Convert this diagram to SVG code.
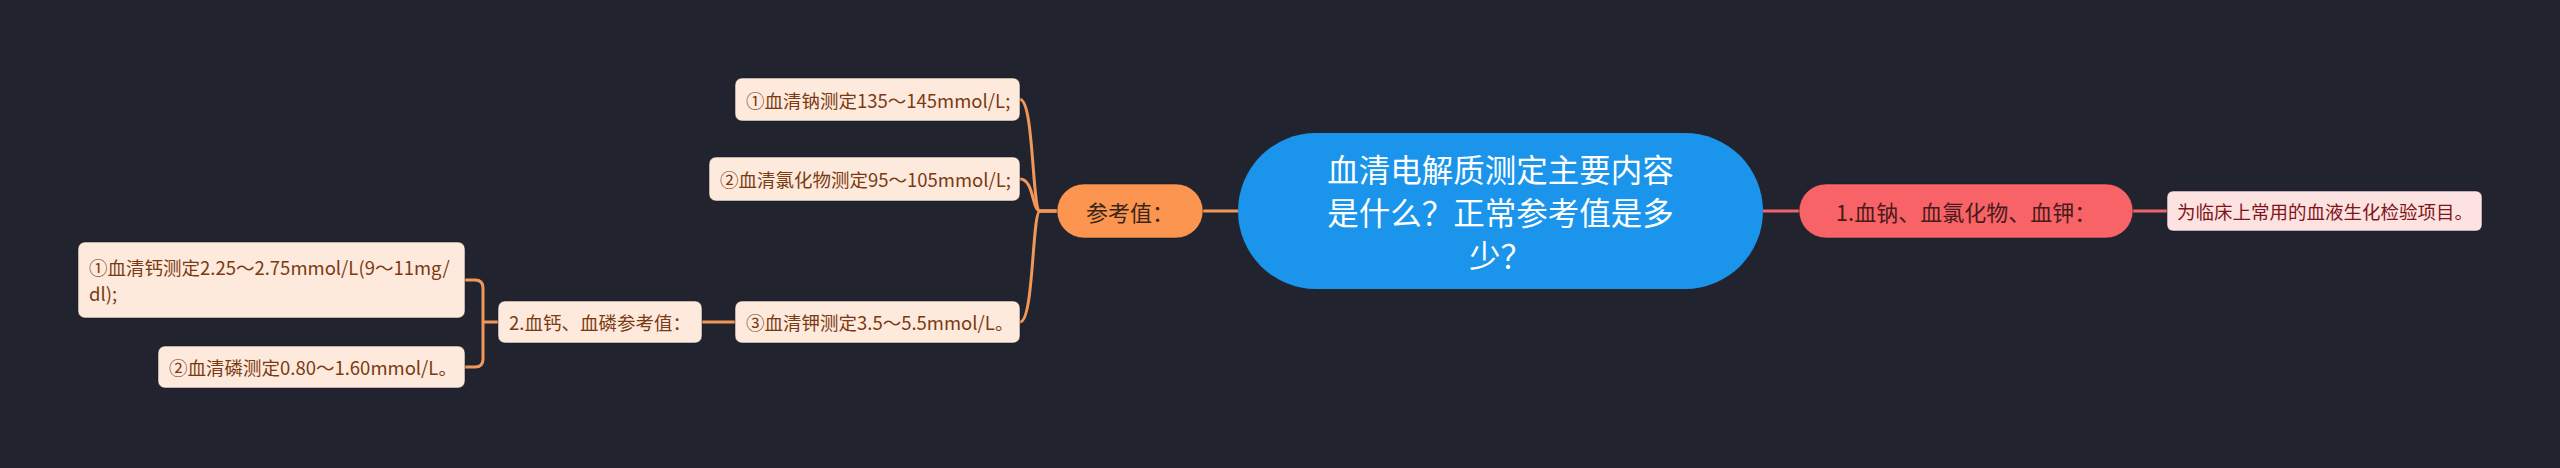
<svg xmlns="http://www.w3.org/2000/svg" width="2560" height="468" viewBox="0 0 2560 468">
<defs>
<style>
text{font-family:"Noto Sans CJK SC","Noto Sans",sans-serif;dominant-baseline:central}
.leaf{fill:#fdeadd;stroke:#14161d;stroke-opacity:.5;stroke-width:1}
.lt{fill:#7b3a12;font-size:18.5px}
.co{fill:none;stroke:#f2975a;stroke-width:3}
.cr{fill:none;stroke:#ef6468;stroke-width:3}
</style>
</defs>
<rect width="2560" height="468" fill="#21242f"/>
<g id="connectors">
<path class="co" d="M1203,211 H1238"/>
<path class="cr" d="M1763,211 H1799"/>
<path class="cr" d="M2133,211 H2167"/>
<path class="co" d="M1057,211 H1040 C1032,211 1034,99.5 1020,99.5"/>
<path class="co" d="M1057,211 H1040 C1032,211 1034,179 1020,179"/>
<path class="co" d="M1057,211 H1040 C1032,211 1034,322 1020,322"/>
<path class="co" d="M735,322 H702"/>
<path class="co" d="M498,322 H483"/>
<path class="co" d="M465,280 H475 Q483,280 483,288 V359 Q483,367 475,367 H465"/>
</g>
<g id="root">
<rect x="1238" y="133" width="525" height="156" rx="78" fill="#1a95eb"/>
<text x="1500.5" y="168" fill="#ffffff" font-size="31.5" text-anchor="middle">血清电解质测定主要内容</text>
<text x="1500.5" y="211" fill="#ffffff" font-size="31.5" text-anchor="middle">是什么？正常参考值是多</text>
<text x="1500.5" y="254" fill="#ffffff" font-size="31.5" text-anchor="middle">少？</text>
</g>
<g id="n-cankao">
<rect x="1057" y="184" width="146" height="54" rx="27" fill="#fb9550" stroke="#14161d" stroke-opacity=".5"/>
<text x="1130" y="211" fill="#3a2618" font-size="22" text-anchor="middle">参考值：</text>
</g>
<g id="n-na">
<rect class="leaf" x="735" y="78" width="285" height="43" rx="7"/>
<text class="lt" x="746" y="99.5">①血清钠测定135～145mmol/L;</text>
</g>
<g id="n-cl">
<rect class="leaf" x="709" y="157" width="311" height="44" rx="7"/>
<text class="lt" x="720" y="179">②血清氯化物测定95～105mmol/L;</text>
</g>
<g id="n-k">
<rect class="leaf" x="735" y="301" width="285" height="42" rx="7"/>
<text class="lt" x="746" y="322">③血清钾测定3.5～5.5mmol/L。</text>
</g>
<g id="n-cap">
<rect class="leaf" x="498" y="301" width="204" height="42" rx="7"/>
<text class="lt" x="509" y="322">2.血钙、血磷参考值：</text>
</g>
<g id="n-ca">
<rect class="leaf" x="78" y="242" width="387" height="76" rx="7"/>
<text class="lt" x="89" y="267">①血清钙测定2.25～2.75mmol/L(9～11mg/</text>
<text class="lt" x="89" y="293">dl);</text>
</g>
<g id="n-p">
<rect class="leaf" x="158" y="346" width="307" height="42" rx="7"/>
<text class="lt" x="169" y="367">②血清磷测定0.80～1.60mmol/L。</text>
</g>
<g id="n-right">
<rect x="1799" y="184" width="334" height="54" rx="27" fill="#f76367" stroke="#14161d" stroke-opacity=".5"/>
<text x="1966" y="211" fill="#4a1a1c" font-size="22" text-anchor="middle">1.血钠、血氯化物、血钾：</text>
</g>
<g id="n-right-leaf">
<rect x="2167" y="191" width="315" height="40" rx="6" fill="#fde2e2" stroke="#14161d" stroke-opacity=".5"/>
<text x="2177" y="211" fill="#801418" font-size="18.5">为临床上常用的血液生化检验项目。</text>
</g>
</svg>
